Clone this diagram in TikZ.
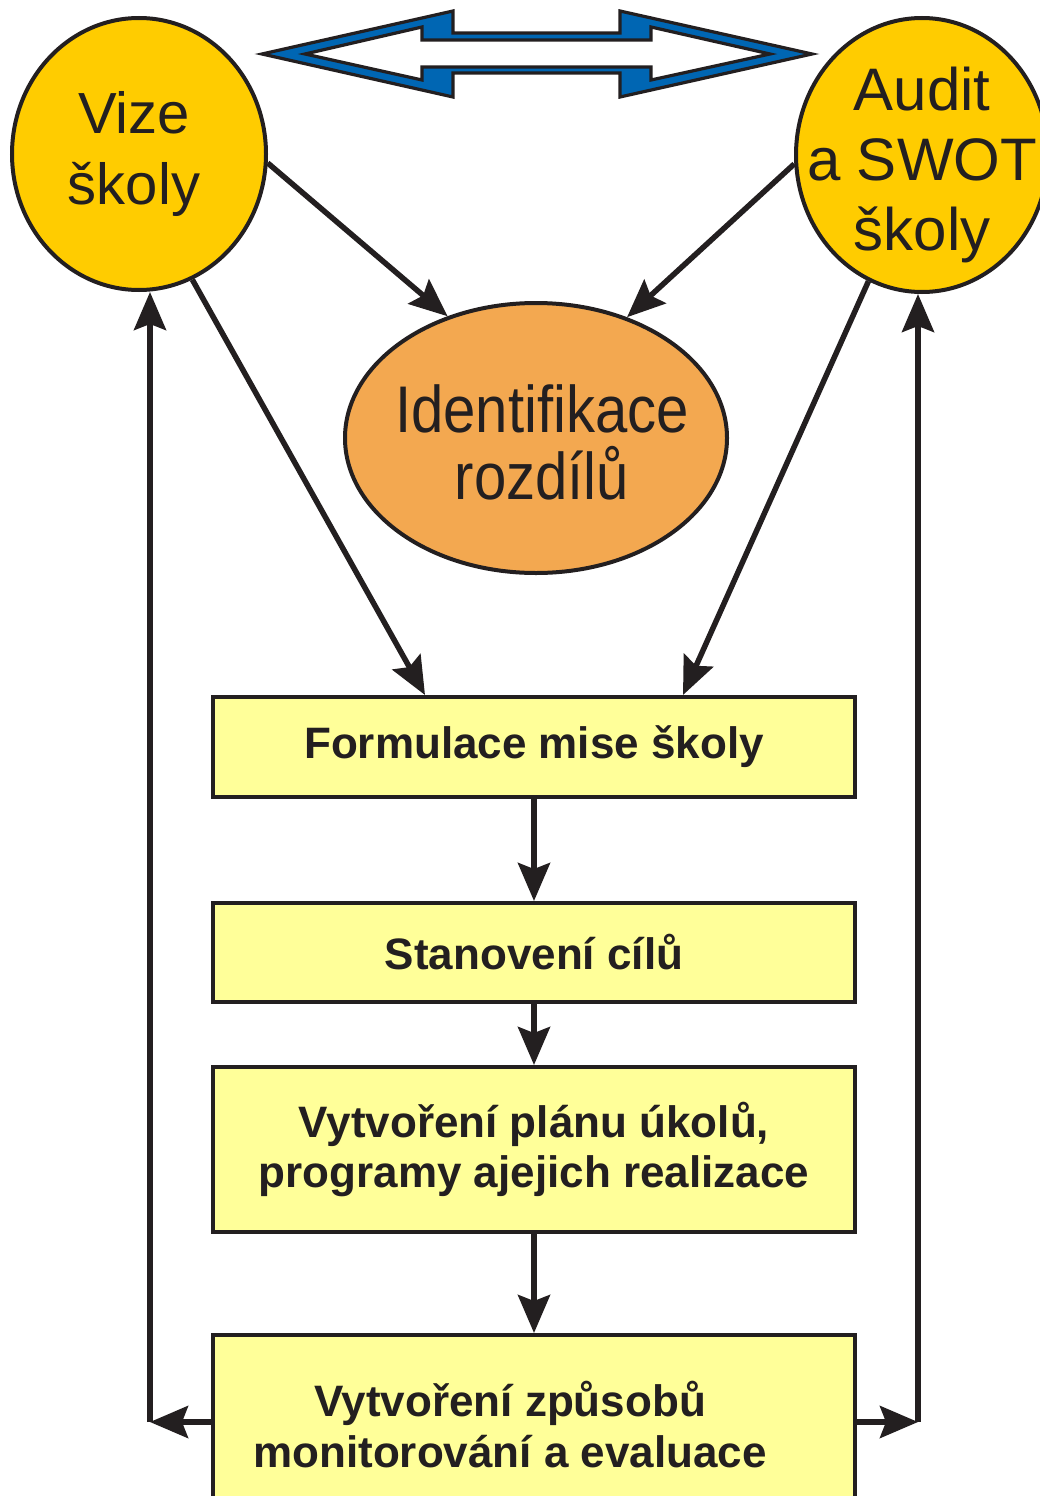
\documentclass[tikz,border=0pt]{standalone}
\usepackage{fontspec}
\setmainfont{Liberation Sans}
\newfontfamily\identfont[FakeStretch=0.88]{Liberation Sans}
\usetikzlibrary{shapes.geometric,arrows.meta,calc}
\definecolor{ink}{RGB}{35,31,32}
\definecolor{circyellow}{RGB}{255,204,0}
\definecolor{identorange}{RGB}{243,168,80}
\definecolor{boxyellow}{RGB}{255,255,153}
\definecolor{arrowblue}{RGB}{0,102,179}
\begin{document}
\begin{tikzpicture}[x=1pt,y=-1pt,
  every node/.style={text=ink},
  circ/.style={ellipse,draw=ink,line width=4pt,fill=circyellow,inner sep=0pt},
  circtext/.style={align=center,inner sep=0pt,font=\fontsize{58}{71}\selectfont},
  identnode/.style={ellipse,draw=ink,line width=4pt,fill=identorange,inner sep=0pt},
  identtext/.style={align=center,inner sep=0pt,font=\identfont\fontsize{66}{67}\selectfont},
  boxnode/.style={rectangle,draw=ink,line width=4pt,fill=boxyellow,minimum width=642pt,inner sep=0pt,align=center,font=\bfseries\fontsize{44}{50}\selectfont},
  boxtext/.style={align=center,inner sep=0pt,font=\bfseries\fontsize{44}{51}\selectfont},
  conn/.style={draw=ink,line width=5.5pt,-{Stealth[length=38pt,width=32pt,inset=6pt]}},
  dblarrow/.style={draw=ink,line width=3.2pt,line join=miter},
  ]
\path[use as bounding box] (0,0) rectangle (1040,1496);
\clip (0,0) rectangle (1040,1496);

% double arrow at top
\path[dblarrow,fill=arrowblue] (262,54) -- (453,11) -- (453,33) -- (620,33) -- (620,11) -- (812,54)
  -- (620,97) -- (620,73) -- (453,73) -- (453,97) -- cycle;
\path[dblarrow,fill=white] (305,54) -- (422,27) -- (422,40) -- (651,40) -- (651,27) -- (770,54)
  -- (651,80) -- (651,67) -- (422,67) -- (422,80) -- cycle;

% circles
\node[circ,minimum width=254pt,minimum height=272pt] (vize) at (139,154) {};
\node[circtext] (vizetext) at (134,154) {Vize\\školy};
\node[circ,minimum width=252pt,minimum height=274pt] (audit) at (922,155) {};
\node[circtext,font=\fontsize{60}{70}\selectfont] (audittext) at (922,164.5) {Audit\\a SWOT\\školy};

% identification ellipse
\node[identnode,minimum width=382pt,minimum height=270pt] (ident) at (536,438) {};
\node[identtext] (identtxt) at (542,442.5) {Identifikace\\rozdílů};

% boxes
\node[boxnode,minimum height=100pt] (form) at (534,747) {Formulace mise školy};
\node[boxnode,minimum height=99pt] (stan) at (534,952.5) {Stanovení cílů};
\node[boxnode,minimum height=165pt] (plan) at (534,1149.5) {Vytvoření plánu úkolů,\\programy ajejich realizace};
\node[boxnode,minimum height=174pt] (mon) at (534,1422) {};
\node[boxtext] (montext) at (510,1425) {Vytvoření způsobů\\monitorování a evaluace};

% connectors
\draw[conn] (vize.-4) -- (ident.126);
\draw[conn] (audit.184) -- (ident.53);
\draw[conn] (vize.-67) -- ([xshift=-109pt]form.north);
\draw[conn] (audit.-113) -- ([xshift=149pt]form.north);
\draw[conn] (form.south) -- (stan.north);
\draw[conn] (stan.south) -- (plan.north);
\draw[conn] (plan.south) -- (mon.north);

\coordinate (lc) at (150,1422);
\coordinate (rc) at (918,1422);
\draw[conn] (mon.west) -- (lc);
\draw[conn] (lc) -- (lc |- vize.south);
\draw[conn] (mon.east) -- (rc);
\draw[conn] (rc) -- (rc |- audit.south);
\end{tikzpicture}
\end{document}
